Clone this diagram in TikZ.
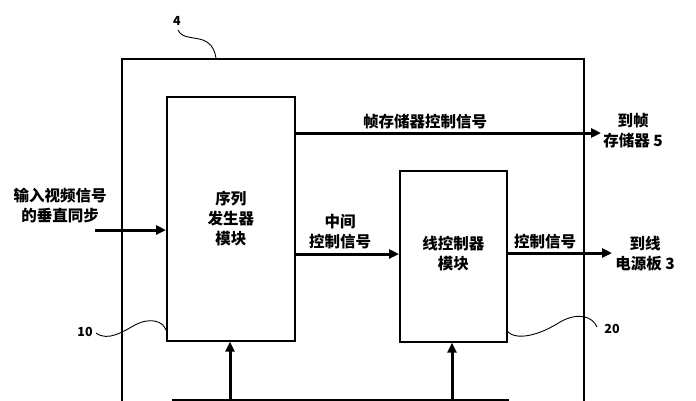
\documentclass[tikz,border=0pt]{standalone}
\usepackage{fontspec}
\newfontfamily\cjk{Noto Sans CJK SC}
\usetikzlibrary{arrows.meta}
\tikzset{
  box/.style={draw, line width=1.6pt, minimum width=#1, inner sep=0pt},
  lbl/.style={font=\cjk\bfseries\fontsize{15.5}{20}\selectfont, align=center, inner sep=0pt},
  num/.style={font=\cjk\bfseries\fontsize{12.5}{14}\selectfont, inner sep=0pt},
  arr/.style={line width=3pt, -{Triangle[length=10pt,width=9pt]}},
  leader/.style={line width=0.9pt},
}
\begin{document}
\begin{tikzpicture}[x=1pt,y=-1pt]
\useasboundingbox (0,0) rectangle (696,400);
\clip (0,0) rectangle (696,400);
% outer frame
\node[box=462pt, minimum height=380pt, anchor=north west] (frame) at (121,58) {};
% blocks
\node[box=128pt, minimum height=244pt, anchor=north west] (seq) at (166,96) {};
\node[lbl] (seqt) at (seq.center) {序列\\发生器\\模块};
\node[box=107pt, minimum height=171pt, anchor=north west] (lc) at (399,170) {};
\node[lbl] (lct) at ([yshift=3pt]lc.center) {线控制器\\模块};
\node[box=335pt, minimum height=60pt, anchor=north west] (bot) at (172,399) {};
% coordinates
\coordinate (inS) at (95,230);
\coordinate (fmE) at (601,133);
\coordinate (midY) at (0,254);
\coordinate (ctE) at (612,253);
% arrows
\draw[arr] (inS) -- (inS -| seq.west);
\draw[arr] (fmE -| seq.east) -- (fmE);
\draw[arr] (midY -| seq.east) -- (midY -| lc.west);
\draw[arr] (ctE -| lc.east) -- (ctE);
\draw[arr] (bot.north -| 230,0) -- (seq.south -| 230,0);
\draw[arr] (bot.north -| 452,0) -- (lc.south -| 452,0);
% labels
\node[lbl] (tin) at (60,206) {输入视频信号\\的垂直同步};
\node[lbl] (tfm) at (425,122) {帧存储器控制信号};
\node[lbl] (tfm2) at (633,131) {到帧\\存储器 5};
\node[lbl] (tmid) at (340,232) {中间\\控制信号};
\node[lbl] (tct) at (545,242) {控制信号};
\node[lbl] (tct2) at (645,254) {到线\\电源板 3};
% reference numbers
\node[num] (n4) at (177,21) {4};
\node[num] (n10) at (85,332) {10};
\node[num] (n20) at (612,329) {20};
\draw[leader] (178,30) .. controls (182,40) and (198,36) .. (207,42) .. controls (213,46) and (215,52) .. (216,58);
\draw[leader] (96,333) .. controls (108,342) and (124,331) .. (135,325) .. controls (150,317) and (163,321) .. (166,330);
\draw[leader] (506,330) .. controls (515,342) and (540,335) .. (560,322) .. controls (578,312) and (592,316) .. (597,327);
\end{tikzpicture}
\end{document}
